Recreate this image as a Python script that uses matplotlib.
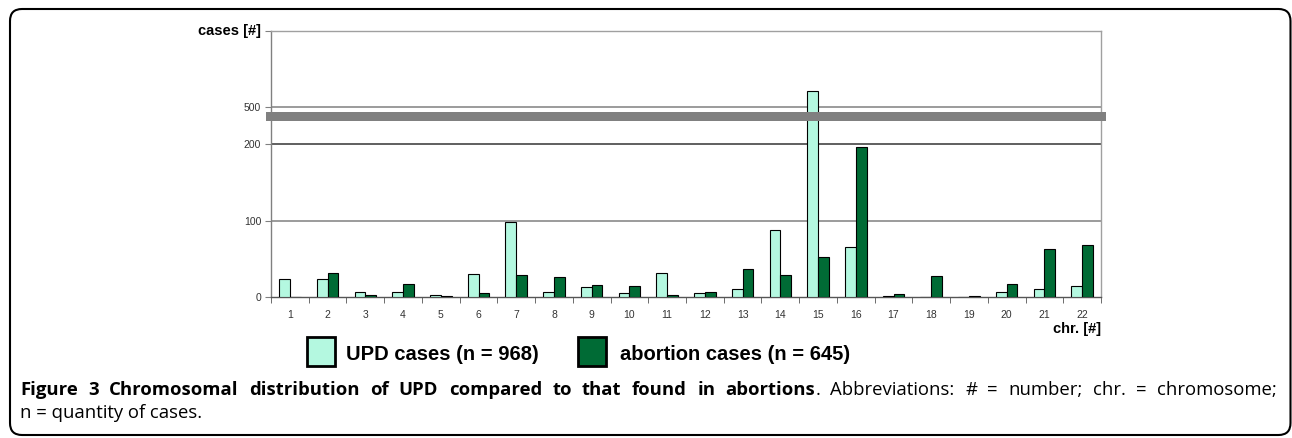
import matplotlib
matplotlib.use('Agg')
import matplotlib.pyplot as plt
import numpy as np
from matplotlib.patches import FancyBboxPatch, Rectangle
from matplotlib.transforms import IdentityTransform

# Chromosomal distribution values
chromosomes = list(range(1, 23))
upd_cases = [24, 24, 7, 6, 2, 30, 98, 6, 13, 5, 31, 5, 10, 88, 521, 66, 1, 0, 0, 6, 11, 14]
abortion_cases = [0, 31, 3, 17, 1, 5, 29, 26, 16, 14, 2, 7, 36, 29, 52, 196, 4, 28, 1, 17, 63, 68]

y_ticks = [0, 100, 200, 500, 600]
y_labels = ['0', '100', '200', '500', '']

upd_color = '#B4F8E0'
abort_color = '#006B35'


# broken y axis: 200..500 is squeezed
def fwd(v):
    v = np.asarray(v, dtype=float)
    return np.where(v <= 200, v, np.where(v <= 500, 200 + (v - 200) * 0.16, v - 252))


def inv(u):
    u = np.asarray(u, dtype=float)
    return np.where(u <= 200, u, np.where(u <= 248, 200 + (u - 200) / 0.16, u + 252))


fig = plt.figure(figsize=(12.92, 4.38), dpi=100)
ax = fig.add_axes([271 / 1292, 141 / 438, 830 / 1292, 266 / 438])
ax.set_yscale('function', functions=(fwd, inv))

x = np.arange(1, 23)
w = 0.285
ax.bar(x - w / 2, upd_cases, width=w, color=upd_color, edgecolor='black', linewidth=0.8, zorder=3)
ax.bar(x + w / 2, abortion_cases, width=w, color=abort_color, edgecolor='black', linewidth=0.8, zorder=3)

ax.set_xlim(0.5, 22.5)
ax.set_ylim(0, 600)

# gridlines
ax.axhline(100, color='#8a8a8a', lw=1.2, zorder=1)
ax.axhline(200, color='#444444', lw=1.2, zorder=1)
ax.axhline(500, color='#8a8a8a', lw=1.2, zorder=1)

# axis break band
ax.add_patch(Rectangle((-0.006, 0.663), 1.012, 0.032, transform=ax.transAxes,
                       color='#808080', lw=0, clip_on=False, zorder=5))

for s in ['top', 'right']:
    ax.spines[s].set_color('#a0a0a0')
ax.spines['left'].set_color('#808080')
ax.spines['bottom'].set_color('#555555')
for s in ax.spines.values():
    s.set_linewidth(1.0)

ax.set_yticks(y_ticks)
ax.set_yticklabels(y_labels)
ax.set_xticks(x)
ax.set_xticklabels([str(c) for c in chromosomes])
ax.set_xticks(np.arange(0.5, 23, 1), minor=True)
ax.tick_params(axis='x', which='major', length=0, pad=9, labelsize=7.5, labelcolor='#333333')
ax.tick_params(axis='x', which='minor', length=4, direction='out', color='#555555')
ax.tick_params(axis='y', length=4, direction='out', color='#808080', labelsize=7.5,
               labelcolor='#333333', pad=3)
for lab in ax.get_yticklabels() + ax.get_xticklabels():
    lab.set_family('Liberation Sans')
ax.yaxis.set_minor_locator(matplotlib.ticker.NullLocator())

ax.text(-0.012, 1.0, 'cases [#]', transform=ax.transAxes, ha='right', va='center',
        fontsize=10.5, fontweight='bold', family='Liberation Sans')
ax.text(1.0, -0.12, 'chr. [#]', transform=ax.transAxes, ha='right', va='center',
        fontsize=10.5, fontweight='bold', family='Liberation Sans')

# legend drawn manually
px = IdentityTransform()
fig.patches.append(Rectangle((307, 438 - 366), 28, 29, transform=px, facecolor=upd_color,
                             edgecolor='black', lw=2))
fig.patches.append(Rectangle((578, 438 - 366), 28, 29, transform=px, facecolor=abort_color,
                             edgecolor='black', lw=2))
fig.text(346, 438 - 354, 'UPD cases (n = 968)', transform=px, ha='left', va='center',
         fontsize=14.5, fontweight='bold', family='Liberation Sans')
fig.text(620, 438 - 354, 'abortion cases (n = 645)', transform=px, ha='left', va='center',
         fontsize=14.5, fontweight='bold', family='Liberation Sans')

# outer rounded frame
fig.patches.append(FancyBboxPatch((10, 3), 1280.5, 426, boxstyle='round,pad=0,rounding_size=12',
                                  transform=px, facecolor='none', edgecolor='black', lw=1.5))

# justified caption
line1 = [[('Figure', 'bold')], [('3', 'bold')], [('Chromosomal', 'bold')], [('distribution', 'bold')],
         [('of', 'bold')], [('UPD', 'bold')], [('compared', 'bold')], [('to', 'bold')],
         [('that', 'bold')], [('found', 'bold')], [('in', 'bold')], [('abortions', 'bold'), ('.', 'normal')],
         [('Abbreviations:', 'normal')], [('#', 'normal')], [('=', 'normal')], [('number;', 'normal')],
         [('chr.', 'normal')], [('=', 'normal')], [('chromosome;', 'normal')]]
cap_size = 13.3
x0, x1 = 20, 1277
r = fig.canvas.get_renderer()

items = []
for word in line1:
    parts = []
    tw = 0
    for s, wt in word:
        t = fig.text(0, 438 - 395, s, transform=px, fontsize=cap_size, fontweight=wt,
                     family='Open Sans', va='baseline')
        parts.append((t, tw))
        tw += t.get_window_extent(r).width
    items.append((parts, tw))

gap = (x1 - x0 - sum(ww for _, ww in items)) / (len(items) - 1)
cx = x0
for parts, ww in items:
    for t, off in parts:
        t.set_x(cx + off)
    cx += ww + gap

fig.text(20, 438 - 417.5, 'n = quantity of cases.', transform=px, fontsize=cap_size,
         family='Open Sans', va='baseline')

fig.savefig('out.png', dpi=100)
